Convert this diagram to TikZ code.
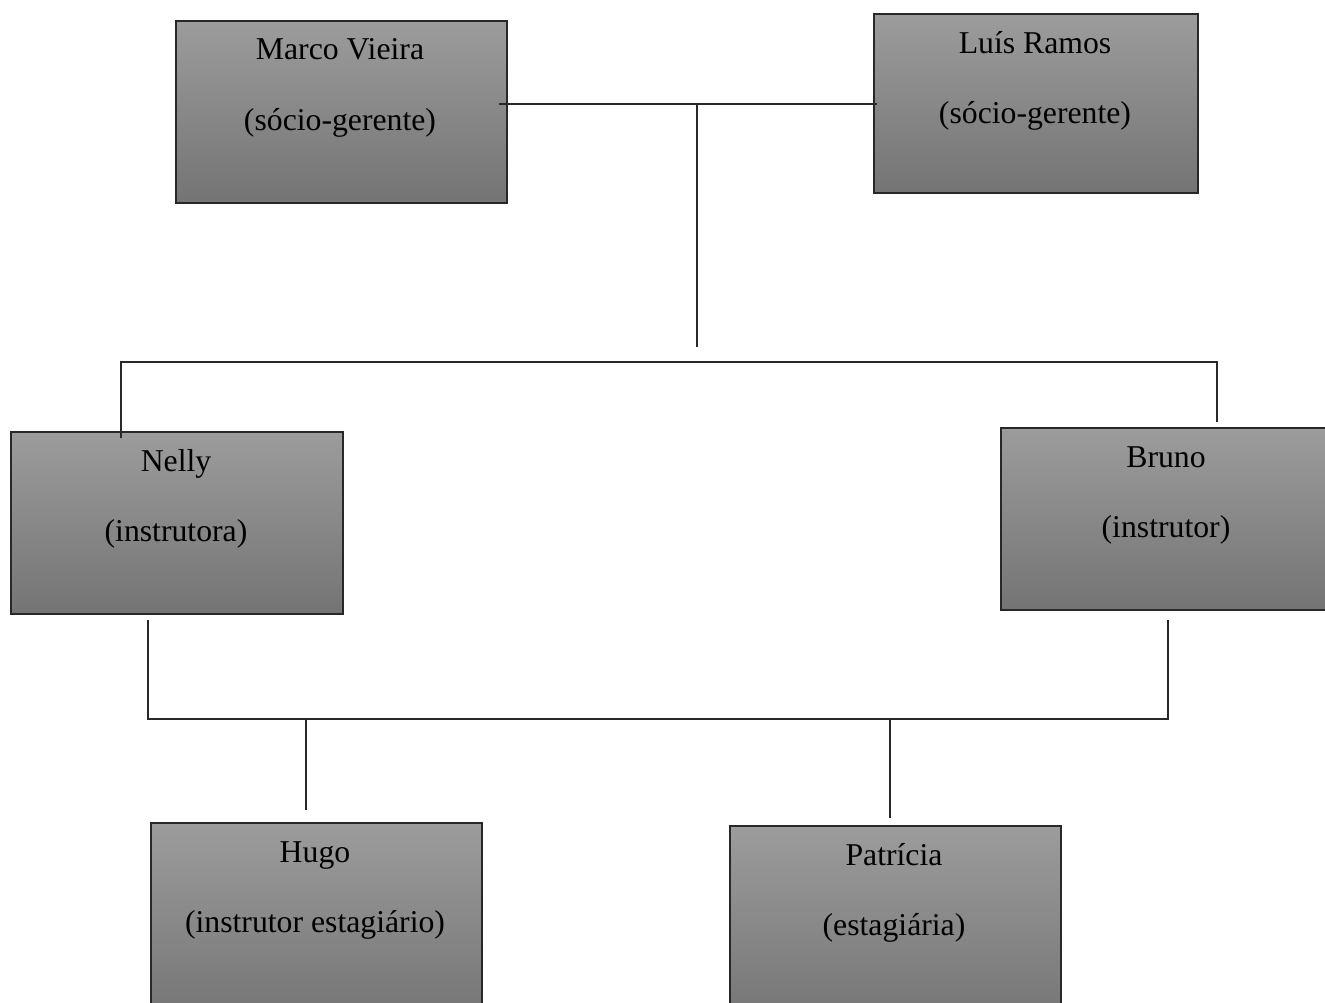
\documentclass[tikz,border=0pt]{standalone}
\usepackage{fontspec}
\setmainfont{Liberation Serif}
\begin{document}
\begin{tikzpicture}[x=0.75pt,y=-0.75pt,
  orgbox/.style={draw={rgb,255:red,40;green,40;blue,40}, line width=1.2pt,
    top color={rgb,255:red,156;green,156;blue,156},
    bottom color={rgb,255:red,116;green,116;blue,116},
    inner sep=0pt, anchor=north west},
  boxtext/.style={anchor=base, inner sep=0pt, font=\fontsize{23.8}{28}\selectfont},
  conn/.style={draw={rgb,255:red,40;green,40;blue,40}, line width=1pt}]
\useasboundingbox (0,0) rectangle (1325,1003);
% boxes
\node[orgbox, minimum width=248.25pt, minimum height=136.5pt] (marco) at (175,20) {};
\node[orgbox, minimum width=243pt, minimum height=134.25pt] (luis) at (873,13) {};
\node[orgbox, minimum width=249pt, minimum height=136.5pt] (nelly) at (10,431) {};
\node[orgbox, minimum width=249pt, minimum height=136.5pt] (bruno) at (1000,427) {};
\node[orgbox, minimum width=248.25pt, minimum height=150pt] (hugo) at (150,822) {};
\node[orgbox, minimum width=248.25pt, minimum height=150pt] (patricia) at (729,825) {};
% texts
\node[boxtext] (marcoA) at (340,60) {Marco Vieira};
\node[boxtext] (marcoB) at (340,130) {(sócio-gerente)};
\node[boxtext] (luisA) at (1035,53) {Luís Ramos};
\node[boxtext] (luisB) at (1035,123) {(sócio-gerente)};
\node[boxtext] (nellyA) at (176,471) {Nelly};
\node[boxtext] (nellyB) at (176,541) {(instrutora)};
\node[boxtext] (brunoA) at (1166,467) {Bruno};
\node[boxtext] (brunoB) at (1166,537) {(instrutor)};
\node[boxtext] (hugoA) at (315,862) {Hugo};
\node[boxtext] (hugoB) at (315,932) {(instrutor estagiário)};
\node[boxtext] (patA) at (894,865) {Patrícia};
\node[boxtext] (patB) at (894,935) {(estagiária)};
% connector coordinates
\coordinate (topL) at (499,104);
\coordinate (topR) at (877,104);
\coordinate (topM) at (697,104);
\coordinate (topDown) at (697,347);
\coordinate (midL) at (121,362);
\coordinate (midR) at (1217,362);
\coordinate (nellyIn) at (121,438);
\coordinate (brunoIn) at (1217,422);
\coordinate (nellyOut) at (148,620);
\coordinate (brunoOut) at (1168,620);
\coordinate (lowL) at (148,719);
\coordinate (lowR) at (1168,719);
\coordinate (hugoUp) at (306,719);
\coordinate (hugoTop) at (306,810);
\coordinate (patUp) at (890,719);
\coordinate (patTop) at (890,818);
% connectors
\draw[conn] (topL) -- (topR);
\draw[conn] (topM) -- (topDown);
\draw[conn] (nellyIn) -- (midL) -- (midR) -- (brunoIn);
\draw[conn] (nellyOut) -- (lowL) -- (lowR) -- (brunoOut);
\draw[conn] (hugoUp) -- (hugoTop);
\draw[conn] (patUp) -- (patTop);
\end{tikzpicture}
\end{document}
